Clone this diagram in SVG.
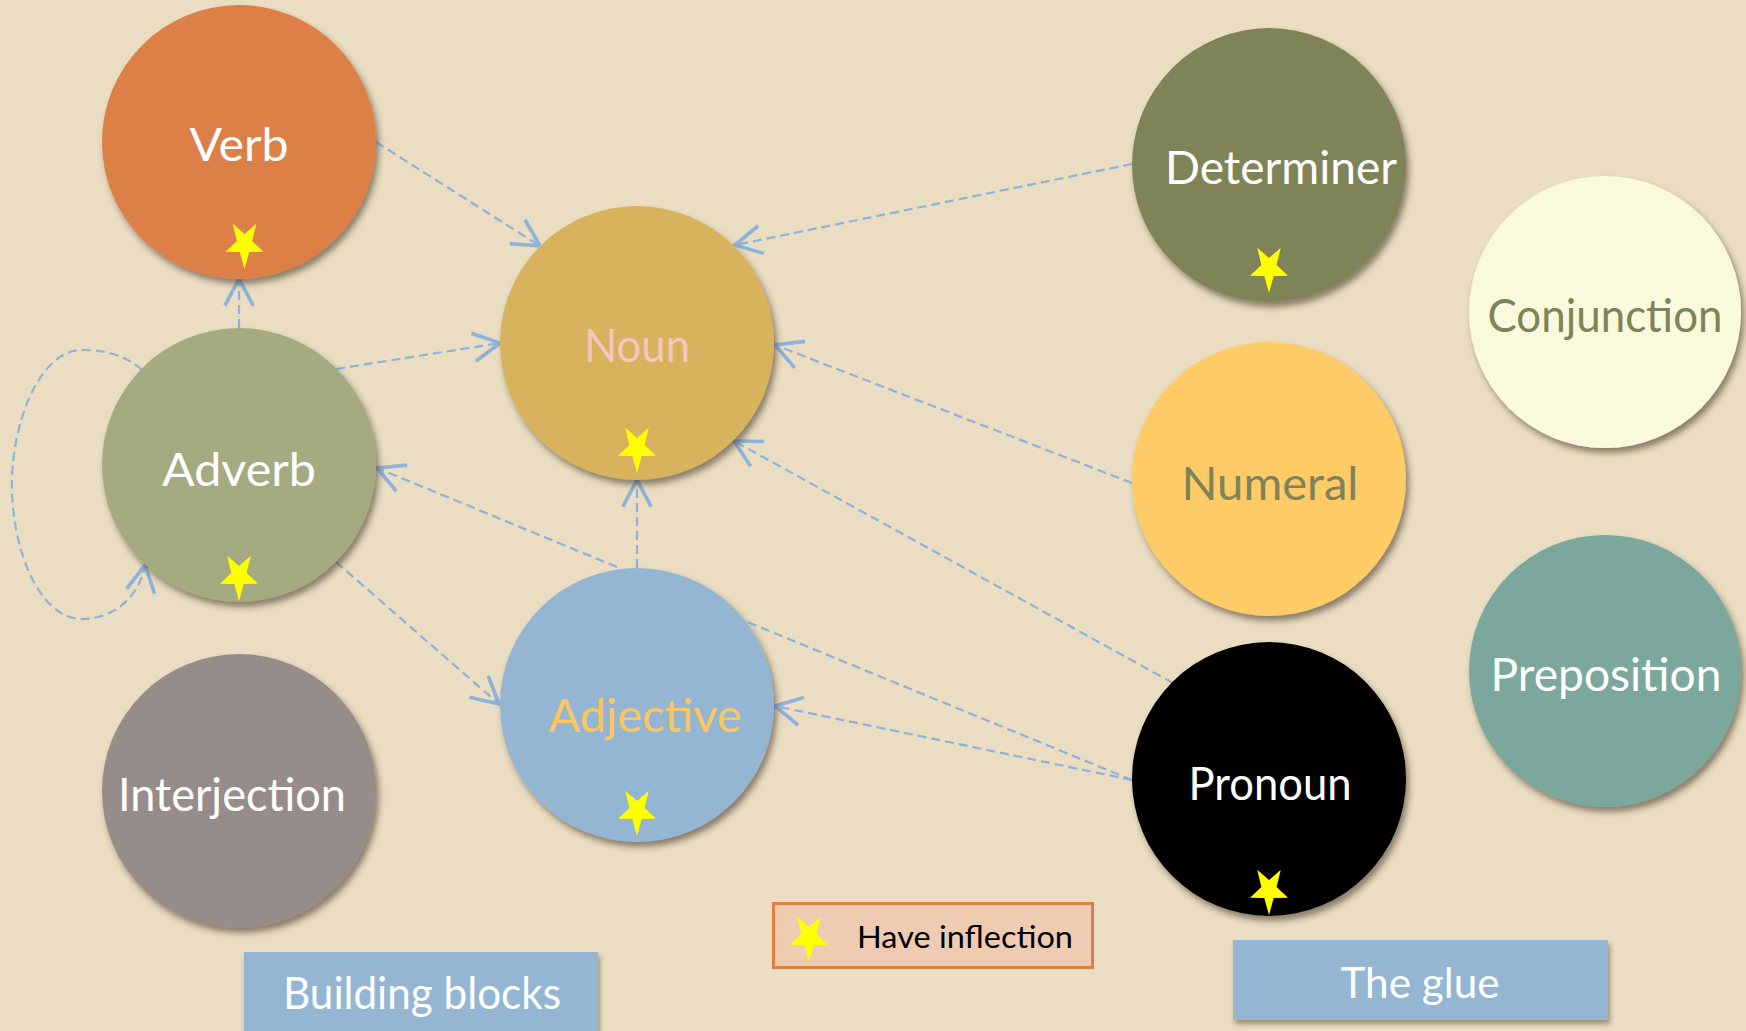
<svg xmlns="http://www.w3.org/2000/svg" xmlns:xlink="http://www.w3.org/1999/xlink" width="1746" height="1031" viewBox="0 0 1746 1031">
<defs>
<style>
.lbl{font-family:Lato,"Open Sans","Liberation Sans",sans-serif;font-size:47px;text-anchor:middle;fill:#ffffff}
.box{font-family:Lato,"Open Sans","Liberation Sans",sans-serif;text-anchor:middle;fill:#ffffff}
.conn{fill:none;stroke:#8db3da;stroke-width:2.2;stroke-dasharray:9 5}
.arr{marker-end:url(#ah)}
.node circle{filter:url(#sh)}
.star{fill:#ffff00}
</style>
<filter id="sh" x="-20%" y="-20%" width="140%" height="140%">
<feDropShadow dx="3" dy="5" stdDeviation="3" flood-color="#3a3020" flood-opacity="0.55"/>
</filter>
<filter id="bsh" x="-10%" y="-20%" width="120%" height="150%">
<feDropShadow dx="2" dy="4" stdDeviation="2.5" flood-color="#3a3020" flood-opacity="0.45"/>
</filter>
<marker id="ah" markerUnits="userSpaceOnUse" markerWidth="40" markerHeight="40" refX="0" refY="0" orient="auto" viewBox="-22 -12 24 24" overflow="visible">
<path d="M-16,-8.5 L0,0 L-16,8.5" fill="none" stroke="#8db3da" stroke-width="2.2"/>
</marker>
<polygon id="star" class="star" points="0,25 4.7,8.1 19,7.7 7.6,-3.1 11.8,-20.2 0,-10 -11.8,-20.2 -7.6,-3.1 -19,7.7 -4.7,8.1"/>
</defs>
<rect x="0" y="0" width="1746" height="1031" fill="#eaddc2"/>

<g id="connectors">
<line class="conn arr" x1="376" y1="142" x2="540" y2="246"/>
<line class="conn arr" x1="1132" y1="164" x2="735" y2="245"/>
<line class="conn arr" x1="239" y1="328" x2="239" y2="279"/>
<line class="conn arr" x1="336" y1="369" x2="500" y2="343"/>
<line class="conn arr" x1="617" y1="567" x2="377" y2="468"/>
<line class="conn arr" x1="637" y1="568" x2="637" y2="480"/>
<line class="conn arr" x1="336" y1="562" x2="499" y2="704"/>
<path class="conn arr" d="M142,370 C125,355 105,350 82,350 C40,350 14,420 12,477 C10,550 40,619 82,619 C115,619 140,595 145,565"/>
<line class="conn arr" x1="1132" y1="483" x2="775" y2="345"/>
<line class="conn arr" x1="1173" y1="683" x2="734" y2="441"/>
<line class="conn arr" x1="1132" y1="780" x2="775" y2="706"/>
<line class="conn" x1="1132" y1="780" x2="745" y2="621"/>
</g>

<g id="node-verb" class="node">
<circle cx="239" cy="142" r="137" fill="#dd8047"/>
<text class="lbl" x="239" y="161" textLength="99" lengthAdjust="spacingAndGlyphs">Verb</text>
<use href="#star" x="244.5" y="244"/>
</g>
<g id="node-adverb" class="node">
<circle cx="239" cy="465" r="137" fill="#a5ab81"/>
<text class="lbl" x="239" y="486" textLength="154" lengthAdjust="spacingAndGlyphs">Adverb</text>
<use href="#star" x="239" y="576"/>
</g>
<g id="node-interjection" class="node">
<circle cx="239" cy="791" r="137" fill="#968c8a"/>
<text class="lbl" x="232" y="811" textLength="228" lengthAdjust="spacingAndGlyphs">Interjection</text>
</g>
<g id="node-noun" class="node">
<circle cx="637" cy="343" r="137" fill="#d8b25c"/>
<text class="lbl" x="637" y="362" textLength="106" lengthAdjust="spacingAndGlyphs" style="fill:#f5c7c0">Noun</text>
<use href="#star" x="637" y="448"/>
</g>
<g id="node-adjective" class="node">
<circle cx="637" cy="705" r="137" fill="#94b6d3"/>
<text class="lbl" x="645" y="732" textLength="193" lengthAdjust="spacingAndGlyphs" style="fill:#fcc65e">Adjective</text>
<use href="#star" x="637" y="811"/>
</g>
<g id="node-determiner" class="node">
<circle cx="1269" cy="165" r="137" fill="#7f8359"/>
<text class="lbl" x="1281" y="184" textLength="232" lengthAdjust="spacingAndGlyphs">Determiner</text>
<use href="#star" x="1269" y="268"/>
</g>
<g id="node-numeral" class="node">
<circle cx="1269" cy="479" r="137" fill="#fecb66"/>
<text class="lbl" x="1270" y="500" textLength="177" lengthAdjust="spacingAndGlyphs" style="fill:#7f8359">Numeral</text>
</g>
<g id="node-pronoun" class="node">
<circle cx="1269" cy="779" r="137" fill="#000000"/>
<text class="lbl" x="1270" y="800" textLength="163" lengthAdjust="spacingAndGlyphs">Pronoun</text>
<use href="#star" x="1269" y="890"/>
</g>
<g id="node-conjunction" class="node">
<circle cx="1605" cy="312" r="136" fill="#f9fadb"/>
<text class="lbl" x="1605" y="332" textLength="235" lengthAdjust="spacingAndGlyphs" style="fill:#7f8359">Conjunction</text>
</g>
<g id="node-preposition" class="node">
<circle cx="1605" cy="671" r="136" fill="#7ba79d"/>
<text class="lbl" x="1606" y="691" textLength="231" lengthAdjust="spacingAndGlyphs">Preposition</text>
</g>

<g id="legend">
<rect x="773.5" y="903.5" width="319" height="64" fill="#efcbb2" stroke="#dd8047" stroke-width="3"/>
<use href="#star" x="809" y="937"/>
<text x="965" y="948" font-family="Lato,'Open Sans','Liberation Sans',sans-serif" font-size="31" text-anchor="middle" fill="#000000" textLength="216" lengthAdjust="spacingAndGlyphs">Have inflection</text>
</g>

<g id="label-building-blocks">
<rect x="244" y="952" width="354" height="90" fill="#94b6d3" filter="url(#bsh)"/>
<text class="box" x="422" y="1009" font-size="45" textLength="278" lengthAdjust="spacingAndGlyphs">Building blocks</text>
</g>
<g id="label-the-glue">
<rect x="1233" y="940" width="375" height="80" fill="#94b6d3" filter="url(#bsh)"/>
<text class="box" x="1420" y="998" font-size="43" textLength="159" lengthAdjust="spacingAndGlyphs">The glue</text>
</g>
</svg>
